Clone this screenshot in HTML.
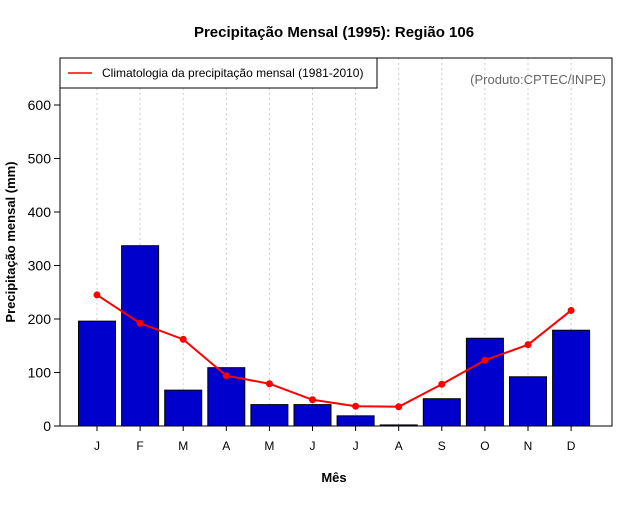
<!DOCTYPE html>
<html><head><meta charset="utf-8"><style>
body{margin:0;background:#fff;}
svg text{font-family:"Liberation Sans",sans-serif;}
</style></head><body>
<svg id="chart" width="640" height="500" xmlns="http://www.w3.org/2000/svg">
<rect width="640" height="500" fill="#fff"/>
<text x="334" y="37" text-anchor="middle" font-size="15" font-weight="bold">Precipitação Mensal (1995): Região 106</text>
<g id="grid"></g>
<g id="bars"></g>
<g id="line"></g>
<rect x="60" y="58" width="552" height="368" fill="none" stroke="#000"/>
<g id="yaxis"></g>
<g id="xaxis"></g>
<text x="334" y="482" text-anchor="middle" font-size="13" font-weight="bold">Mês</text>
<text transform="translate(15,242) rotate(-90)" text-anchor="middle" font-size="13" font-weight="bold">Precipitação mensal (mm)</text>
<g>
<rect x="60" y="58" width="317" height="30" fill="#fff" stroke="#000"/>
<line x1="68" y1="73" x2="92" y2="73" stroke="#f00" stroke-width="1.5"/>
<text x="102" y="77" font-size="12">Climatologia da precipitação mensal (1981-2010)</text>
</g>
<text x="606" y="84" text-anchor="end" font-size="13" fill="#666">(Produto:CPTEC/INPE)</text>
</svg>
<script>
const months=["J","F","M","A","M","J","J","A","S","O","N","D"];
const observed=[196,337,67,109,40,40,19,2,51,164,92,179];
const climatology=[245,192,162,94,79,49,37,36,78,123,152,216];
const yTicks=[0,100,200,300,400,500,600];
const NS="http://www.w3.org/2000/svg";
const x0=97,dx=43.1,bw=37;
const xs=i=>x0+i*dx;
const ys=v=>426-v*0.535;
function mk(t,a,p,txt){const e=document.createElementNS(NS,t);for(const k in a)e.setAttribute(k,a[k]);if(txt!==undefined)e.textContent=txt;document.getElementById(p).appendChild(e);return e;}
months.forEach((m,i)=>{
 const g=mk("line",{x1:xs(i),x2:xs(i),y1:58,y2:426,stroke:"#ccc","stroke-dasharray":"2,3"},"grid");
 
 
 const b=mk("rect",{x:xs(i)-bw/2,y:ys(observed[i]),width:bw,height:426-ys(observed[i]),fill:"#0000cc",stroke:"#000"},"bars");
 
 
 const t=mk("line",{x1:xs(i),x2:xs(i),y1:426,y2:431,stroke:"#000"},"xaxis");
 
 
 const l=mk("text",{x:xs(i),y:450,"text-anchor":"middle","font-size":12},"xaxis",m);
 
 
});
const pl=mk("polyline",{points:climatology.map((v,i)=>xs(i)+","+ys(v)).join(" "),fill:"none",stroke:"#f00","stroke-width":2},"line");


climatology.forEach((v,i)=>{
 const c=mk("circle",{cx:xs(i),cy:ys(v),r:3.5,fill:"#f00"},"line");
 
 
});
yTicks.forEach(v=>{
 const t=mk("line",{x1:54,x2:60,y1:ys(v),y2:ys(v),stroke:"#000"},"yaxis");
 
 
 const l=mk("text",{x:51,y:ys(v)+5,"text-anchor":"end","font-size":14},"yaxis",v);
 
 
});
</script>
</body></html>
